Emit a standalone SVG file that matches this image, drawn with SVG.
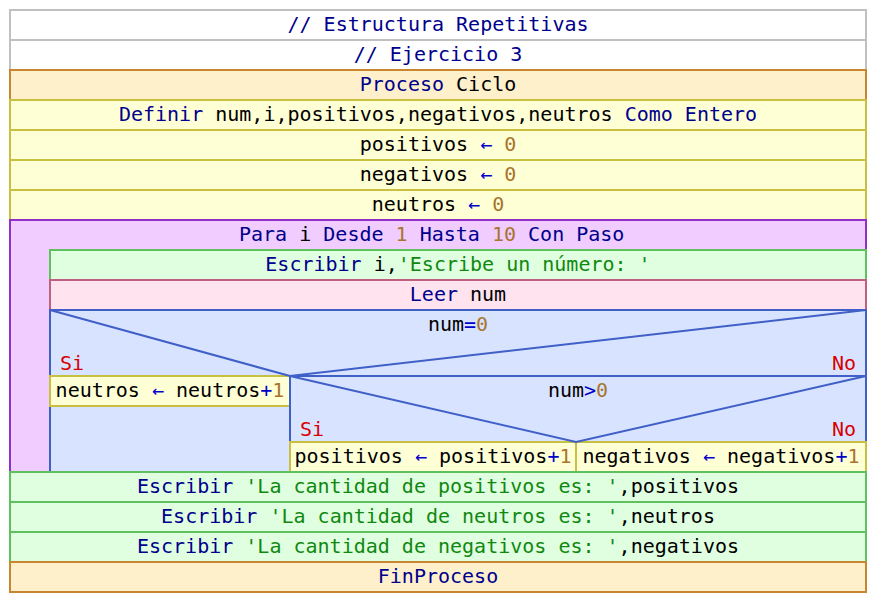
<svg xmlns="http://www.w3.org/2000/svg" width="876" height="602" viewBox="0 0 876 602">
<style>
text{font-family:"DejaVu Sans Mono","Liberation Mono",monospace;font-size:20px;fill:#000}
.c{text-anchor:middle}
.k{fill:#00008c}
.s{fill:#108810}
.n{fill:#a8742e}
.o{fill:#0000c8}
.r{fill:#d80000}
.cm{fill:#fff;stroke:#c0c0c0;stroke-width:2}
.pr{fill:#fff0cc;stroke:#c8862e;stroke-width:2}
.as{fill:#ffffd6;stroke:#c8c040;stroke-width:2}
.fo{fill:#f0ccff;stroke:#9030c8;stroke-width:2}
.wr{fill:#e0ffe0;stroke:#60c060;stroke-width:2}
.rd{fill:#ffe4f0;stroke:#c06080;stroke-width:2}
.if{fill:#d8e4ff;stroke:#4060c8;stroke-width:2}
.ln{stroke:#4060c8;stroke-width:2;fill:none}
</style>
<rect width="876" height="602" fill="#fff"/>
<g id="comment1"><rect class="cm" x="10" y="10" width="856" height="30"/><text class="c k" x="438" y="31">// Estructura Repetitivas</text></g>
<g id="comment2"><rect class="cm" x="10" y="40" width="856" height="30"/><text class="c k" x="438" y="61">// Ejercicio 3</text></g>
<g id="proceso"><rect class="pr" x="10" y="70" width="856" height="30"/><text class="c" x="438" y="91"><tspan class="k">Proceso</tspan> Ciclo</text></g>
<g id="definir"><rect class="as" x="10" y="100" width="856" height="30"/><text class="c" x="438" y="121"><tspan class="k">Definir</tspan> num,i,positivos,negativos,neutros <tspan class="k">Como Entero</tspan></text></g>
<g id="asig1"><rect class="as" x="10" y="130" width="856" height="30"/><text class="c" x="438" y="151">positivos <tspan class="o">←</tspan> <tspan class="n">0</tspan></text></g>
<g id="asig2"><rect class="as" x="10" y="160" width="856" height="30"/><text class="c" x="438" y="181">negativos <tspan class="o">←</tspan> <tspan class="n">0</tspan></text></g>
<g id="asig3"><rect class="as" x="10" y="190" width="856" height="30"/><text class="c" x="438" y="211">neutros <tspan class="o">←</tspan> <tspan class="n">0</tspan></text></g>
<g id="para"><rect class="fo" x="10" y="220" width="856" height="252"/><text x="239" y="241"><tspan class="k">Para</tspan> i <tspan class="k">Desde</tspan> <tspan class="n">1</tspan> <tspan class="k">Hasta</tspan> <tspan class="n">10</tspan> <tspan class="k">Con Paso</tspan></text></g>
<g id="escribir1"><rect class="wr" x="50" y="250" width="816" height="30"/><text class="c" x="458" y="271"><tspan class="k">Escribir</tspan> i,<tspan class="s">'Escribe un número: '</tspan></text></g>
<g id="leer"><rect class="rd" x="50" y="280" width="816" height="30"/><text class="c" x="458" y="301"><tspan class="k">Leer</tspan> num</text></g>
<g id="si1"><rect class="if" x="50" y="310" width="816" height="162"/><text class="c" x="458" y="331">num<tspan class="o">=</tspan><tspan class="n">0</tspan></text><text class="r" x="60" y="370">Si</text><text class="r" x="856" y="370" text-anchor="end">No</text></g>
<g id="asig_neutros"><rect class="as" x="50" y="376" width="240" height="30"/><text class="c" x="170" y="397">neutros <tspan class="o">←</tspan> neutros<tspan class="o">+</tspan><tspan class="n">1</tspan></text></g>
<g id="si2"><rect class="if" x="290" y="376" width="576" height="96"/><text class="c" x="578" y="397">num<tspan class="o">&gt;</tspan><tspan class="n">0</tspan></text><text class="r" x="300" y="436">Si</text><text class="r" x="856" y="436" text-anchor="end">No</text></g>
<g id="asig_pos"><rect class="as" x="290" y="442" width="286" height="30"/><text class="c" x="433" y="463">positivos <tspan class="o">←</tspan> positivos<tspan class="o">+</tspan><tspan class="n">1</tspan></text></g>
<g id="asig_neg"><rect class="as" x="576" y="442" width="290" height="30"/><text class="c" x="721" y="463">negativos <tspan class="o">←</tspan> negativos<tspan class="o">+</tspan><tspan class="n">1</tspan></text></g>
<g id="connectors">
<path class="ln" d="M50 310 L290 376 L866 310"/>
<path class="ln" d="M290 376 L576 442 L866 376"/>
</g>
<g id="escribir2"><rect class="wr" x="10" y="472" width="856" height="30"/><text class="c" x="438" y="493"><tspan class="k">Escribir</tspan> <tspan class="s">'La cantidad de positivos es: '</tspan>,positivos</text></g>
<g id="escribir3"><rect class="wr" x="10" y="502" width="856" height="30"/><text class="c" x="438" y="523"><tspan class="k">Escribir</tspan> <tspan class="s">'La cantidad de neutros es: '</tspan>,neutros</text></g>
<g id="escribir4"><rect class="wr" x="10" y="532" width="856" height="30"/><text class="c" x="438" y="553"><tspan class="k">Escribir</tspan> <tspan class="s">'La cantidad de negativos es: '</tspan>,negativos</text></g>
<g id="finproceso"><rect class="pr" x="10" y="562" width="856" height="30"/><text class="c k" x="438" y="583">FinProceso</text></g>
</svg>
